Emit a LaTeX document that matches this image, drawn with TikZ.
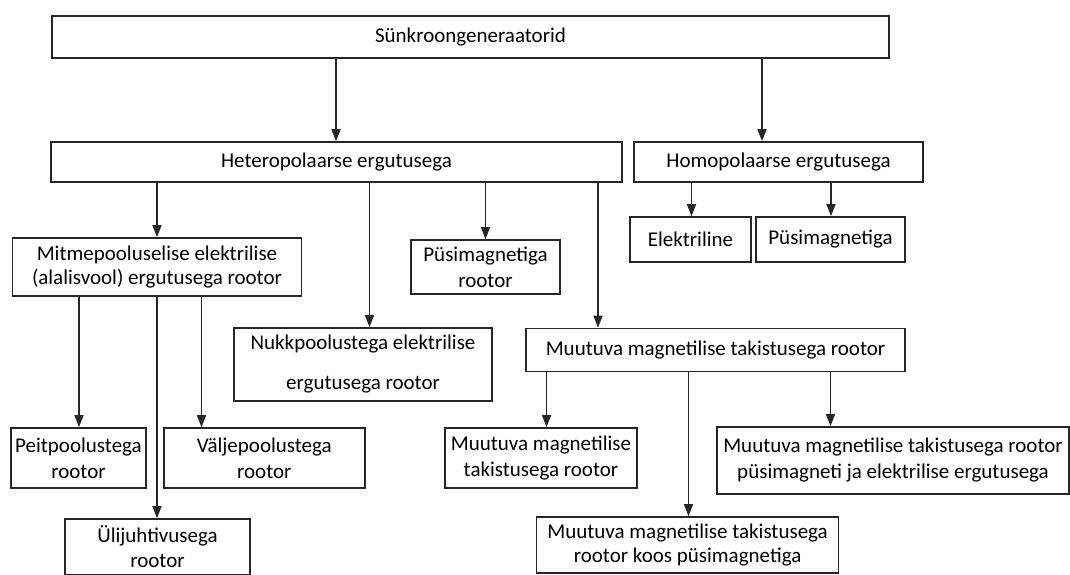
\documentclass[tikz,border=0pt]{standalone}
\usepackage{fontspec}
\setmainfont{Carlito}
\usetikzlibrary{arrows.meta}
\begin{document}
\begin{tikzpicture}[x=1pt,y=-1pt,
  box/.style={draw=black!85,line width=1.7pt,fill=white,inner sep=0pt,align=center,
    font=\fontsize{21}{26}\selectfont},
  arr/.style={draw=black!85,line width=1.6pt,-{Triangle[length=12pt,width=9pt]}}]
\useasboundingbox (0,0) rectangle (1070,574);
\clip (0,0) rectangle (1070,574);
% boxes
\node[box,minimum width=837pt,minimum height=42pt] (top) at (470.5,37) {Sünkroongeneraatorid};
\node[box,minimum width=571pt,minimum height=40pt] (het) at (336.5,162) {Heteropolaarse ergutusega};
\node[box,minimum width=289pt,minimum height=40pt] (hom) at (778.5,162) {Homopolaarse ergutusega};
\node[box,minimum width=289pt,minimum height=58pt,font=\fontsize{21}{24}\selectfont] (mit) at (157,267) {Mitmepooluselise elektrilise\\(alalisvool) ergutusega rootor};
\node[box,minimum width=149pt,minimum height=54pt] (pus) at (485.5,267) {Püsimagnetiga\\rootor};
\node[box,minimum width=121pt,minimum height=45pt] (ele) at (690.5,239.5) {Elektriline};
\node[box,minimum width=149pt,minimum height=45pt] (push) at (830.5,239.5) {Püsimagnetiga};
\node[box,minimum width=258pt,minimum height=73pt,font=\fontsize{21}{40}\selectfont] (nuk) at (363,364.5) {Nukkpoolustega elektrilise\\ergutusega rootor};
\node[box,minimum width=379pt,minimum height=43pt] (muu) at (715.5,350) {Muutuva magnetilise takistusega rootor};
\node[box,minimum width=135pt,minimum height=60pt] (pei) at (78.5,458) {Peitpoolustega\\rootor};
\node[box,minimum width=201pt,minimum height=60pt] (val) at (264.3,458) {Väljepoolustega\\rootor};
\node[box,minimum width=185pt,minimum height=56pt,font=\fontsize{21}{25}\selectfont] (uli) at (157.5,547) {Ülijuhtivusega\\rootor};
\node[box,minimum width=192pt,minimum height=60pt] (mu1) at (541,458) {Muutuva magnetilise\\takistusega rootor};
\node[box,minimum width=352pt,minimum height=67pt] (mu3) at (893,460.5) {Muutuva magnetilise takistusega rootor\\püsimagneti ja elektrilise ergutusega};
\node[box,minimum width=302pt,minimum height=56pt,font=\fontsize{21}{24}\selectfont] (mu2) at (687.6,545) {Muutuva magnetilise takistusega\\rootor koos püsimagnetiga};
% connector x positions
\coordinate (xa) at (336,0);
\coordinate (xb) at (762,0);
\coordinate (xc) at (157,0);
\coordinate (xd) at (369.5,0);
\coordinate (xe) at (485.5,0);
\coordinate (xf) at (598,0);
\coordinate (xg) at (691.5,0);
\coordinate (xh) at (831,0);
\coordinate (xi) at (79,0);
\coordinate (xj) at (157,0);
\coordinate (xk) at (201.5,0);
\coordinate (xl) at (546.5,0);
\coordinate (xm) at (688.5,0);
\coordinate (xn) at (830.5,0);
% connectors
\draw[arr] (top.south -| xa) -- (het.north -| xa);
\draw[arr] (top.south -| xb) -- (hom.north -| xb);
\draw[arr] (het.south -| xc) -- (mit.north -| xc);
\draw[arr] (het.south -| xd) -- (nuk.north -| xd);
\draw[arr] (het.south -| xe) -- (pus.north -| xe);
\draw[arr] (het.south -| xf) -- (muu.north -| xf);
\draw[arr] (hom.south -| xg) -- (ele.north -| xg);
\draw[arr] (hom.south -| xh) -- (push.north -| xh);
\draw[arr] (mit.south -| xi) -- (pei.north -| xi);
\draw[arr] (mit.south -| xj) -- (uli.north -| xj);
\draw[arr] (mit.south -| xk) -- (val.north -| xk);
\draw[arr] (muu.south -| xl) -- (mu1.north -| xl);
\draw[arr] (muu.south -| xm) -- (mu2.north -| xm);
\draw[arr] (muu.south -| xn) -- (mu3.north -| xn);
\end{tikzpicture}
\end{document}
